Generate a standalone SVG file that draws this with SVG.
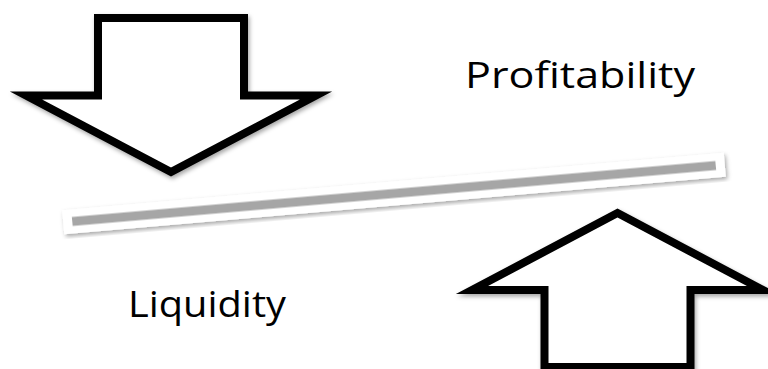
<svg xmlns="http://www.w3.org/2000/svg" width="768" height="369" viewBox="0 0 768 369">
  <defs>
    <filter id="shadow" x="-10%" y="-10%" width="120%" height="130%">
      <feDropShadow dx="1.5" dy="2.5" stdDeviation="2" flood-color="#000" flood-opacity="0.35"/>
    </filter>
    <style>
      .arrow { fill: #fff; stroke: #000; stroke-width: 8; stroke-linejoin: miter; stroke-miterlimit: 10; }
      .label { font-family: "Open Sans", "Liberation Sans", sans-serif; font-size: 36px; fill: #000; }
    </style>
  </defs>
  <rect width="768" height="369" fill="#fff"/>
  <g id="arrow-down" filter="url(#shadow)">
    <polygon class="arrow" points="98,18 244,18 244,95.5 316,95.5 171,172 26,95.5 98,95.5"/>
  </g>
  <g id="arrow-up" filter="url(#shadow)">
    <polygon class="arrow" points="544.5,367 690.5,367 690.5,290 763,290 617.5,213 472,290 544.5,290"/>
  </g>
  <g id="connectors">
    <g id="balance-bar" transform="translate(394,193.5) rotate(-4.97)" filter="url(#shadow)">
      <rect x="-332" y="-12" width="664" height="24" fill="#fff"/>
      <rect x="-323" y="-4.5" width="646" height="9" fill="#a6a6a6"/>
    </g>
  </g>
  <g id="profitability">
    <text class="label" x="465" y="88" textLength="230" lengthAdjust="spacingAndGlyphs">Profitability</text>
  </g>
  <g id="liquidity">
    <text class="label" x="128" y="317" font-size="38" textLength="158" lengthAdjust="spacingAndGlyphs">Liquidity</text>
  </g>
</svg>
